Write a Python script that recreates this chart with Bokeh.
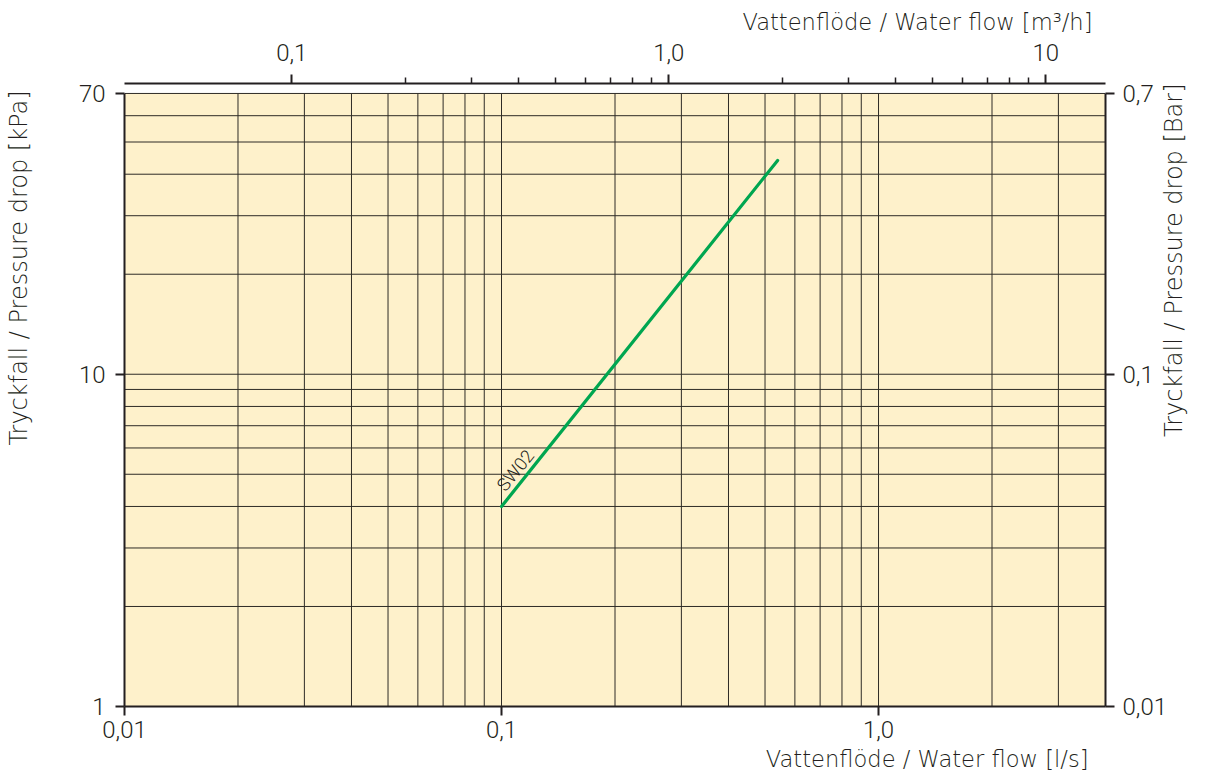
from bokeh.plotting import figure
from bokeh.models import (Range1d, LogScale, LogAxis, FixedTicker,
                          CustomJSTickFormatter, Title, Label, ColumnDataSource)
from bokeh.core.properties import value
from bokeh.embed import file_html
from bokeh.resources import INLINE

# ---------------- data ----------------
flow_ls = [0.10, 0.54]          # l/s
dp_kpa = [4.0, 44.0]            # kPa
series_name = "SW02"

x_lo, x_hi = 0.01, 4.0          # l/s extent of chart
y_lo, y_hi = 1.0, 70.0          # kPa extent of chart

vgrid_ls = [0.02, 0.03, 0.04, 0.05, 0.06, 0.07, 0.08, 0.09, 0.1,
            0.2, 0.3, 0.4, 0.5, 0.6, 0.7, 0.8, 0.9, 1.0, 2.0, 3.0]
hgrid_kpa = [2, 3, 4, 5, 6, 7, 8, 9, 10, 20, 30, 40, 50, 60, 70]

bottom_ticks = [0.01, 0.1, 1.0]
bottom_labels = ["0,01", "0,1", "1,0"]
left_ticks = [1, 10, 70]
left_labels = ["1", "10", "70"]
right_ticks = [0.01, 0.1, 0.7]
right_labels = ["0,01", "0,1", "0,7"]
top_ticks = [0.1, 1.0, 10.0]
top_labels = ["0,1", "1,0", "10"]
top_minor = [0.2, 0.3, 0.4, 0.5, 0.6, 0.7, 0.8, 0.9,
             2, 3, 4, 5, 6, 7, 8, 9]

M3H_PER_LS = 3.6
BAR_PER_KPA = 0.01

bottom_title = "Vattenflöde / Water flow [l/s]"
top_title = "Vattenflöde / Water flow [m³/h]"
left_title = "Tryckfall / Pressure drop [kPa]"
right_title = "Tryckfall / Pressure drop [Bar]"

# ---------------- style ----------------
FONT = "Roboto Light"
TFONT = "DejaVu Sans Light, DejaVu Sans ExtraLight, DejaVu Sans"
INK = "#231f20"
BG = "#FEF1CB"
GRID = "#2e2b26"
GREEN = "#00A650"

Y_TOP = 75.0  # range headroom so the top axis sits above the chart box

p = figure(width=1208, height=776, x_axis_type="log", y_axis_type="log",
           x_range=Range1d(x_lo, x_hi), y_range=Range1d(y_lo, Y_TOP),
           output_backend="svg", toolbar_location=None,
           min_border_left=124, min_border_right=103,
           min_border_top=83, min_border_bottom=70)
p.extra_x_ranges = {"m3h": Range1d(x_lo * M3H_PER_LS, x_hi * M3H_PER_LS)}
p.extra_x_scales = {"m3h": LogScale()}
p.extra_y_ranges = {"bar": Range1d(y_lo * BAR_PER_KPA, Y_TOP * BAR_PER_KPA)}
p.extra_y_scales = {"bar": LogScale()}

p.xgrid.visible = False
p.ygrid.visible = False
p.outline_line_color = None
p.background_fill_color = "white"
p.border_fill_color = "white"

# chart box
p.quad(left=[x_lo], right=[x_hi], bottom=[y_lo], top=[y_hi],
       fill_color=BG, line_color=None)

# grid
p.segment(x0=vgrid_ls, x1=vgrid_ls, y0=[y_lo] * len(vgrid_ls), y1=[y_hi] * len(vgrid_ls),
          line_color=GRID, line_width=1)
p.segment(x0=[x_lo] * len(hgrid_kpa), x1=[x_hi] * len(hgrid_kpa), y0=hgrid_kpa, y1=hgrid_kpa,
          line_color=GRID, line_width=1)

# series
src = ColumnDataSource(dict(x=flow_ls, y=dp_kpa))
p.line("x", "y", source=src, line_color=GREEN, line_width=3.2, line_cap="round")
p.text(x=[flow_ls[0]], y=[dp_kpa[0]], text=[series_name], angle=51, angle_units="deg",
       text_font=value(FONT), text_font_size="18px", text_color=INK,
       text_align="left", text_baseline="alphabetic", x_offset=-1, y_offset=-18)


def fmt(vals, labs):
    return CustomJSTickFormatter(args=dict(vals=vals, labs=labs), code="""
        for (let i = 0; i < vals.length; i++) {
            if (Math.abs(Math.log10(tick) - Math.log10(vals[i])) < 1e-6) return labs[i];
        }
        return "";
    """)


def style(ax, ticks, labs, standoff, minor=None):
    ax.ticker = FixedTicker(ticks=ticks, minor_ticks=minor or [])
    ax.formatter = fmt(ticks, labs)
    ax.axis_line_color = INK
    ax.axis_line_width = 2
    ax.major_tick_line_color = INK
    ax.major_tick_line_width = 2
    ax.major_tick_in = 0
    ax.major_tick_out = 9
    ax.minor_tick_line_color = INK
    ax.minor_tick_line_width = 1.5
    ax.minor_tick_in = 0
    ax.minor_tick_out = 6 if minor else 0
    ax.major_label_text_font = FONT
    ax.major_label_text_font_size = "24px"
    ax.major_label_text_color = INK
    ax.major_label_standoff = standoff


xb = p.xaxis[0]
style(xb, bottom_ticks, bottom_labels, 5)

yl = p.yaxis[0]
style(yl, left_ticks, left_labels, 10)
yl.bounds = (y_lo, y_hi)

ya = LogAxis(y_range_name="bar")
style(ya, right_ticks, right_labels, 8)
ya.bounds = (y_lo * BAR_PER_KPA, y_hi * BAR_PER_KPA)
p.add_layout(ya, "right")

xt = LogAxis(x_range_name="m3h")
style(xt, top_ticks, top_labels, 14, minor=top_minor)
p.add_layout(xt, "above")

# horizontal axis titles, right aligned
tcommon = dict(text_font=TFONT, text_font_size="22.6px", text_font_style="normal",
               text_color=INK, align="right", vertical_align="bottom")
p.add_layout(Title(text=bottom_title, offset=17, standoff=6, **tcommon), "below")
p.add_layout(Title(text=top_title, offset=13, standoff=12, **tcommon), "above")

# vertical titles, reading upwards, placed in the side panels
vcommon = dict(x_units="screen", y_units="screen", angle=90, angle_units="deg",
               text_align="right", text_baseline="alphabetic", text_font=TFONT,
               text_font_size="24px", text_color=INK)
p.add_layout(Label(x=-29, y=616, text=left_title, **vcommon), "left")
p.add_layout(Label(x=3, y=623, text=right_title, **vcommon), "right")

open("out.html", "w").write(file_html(p, INLINE))
